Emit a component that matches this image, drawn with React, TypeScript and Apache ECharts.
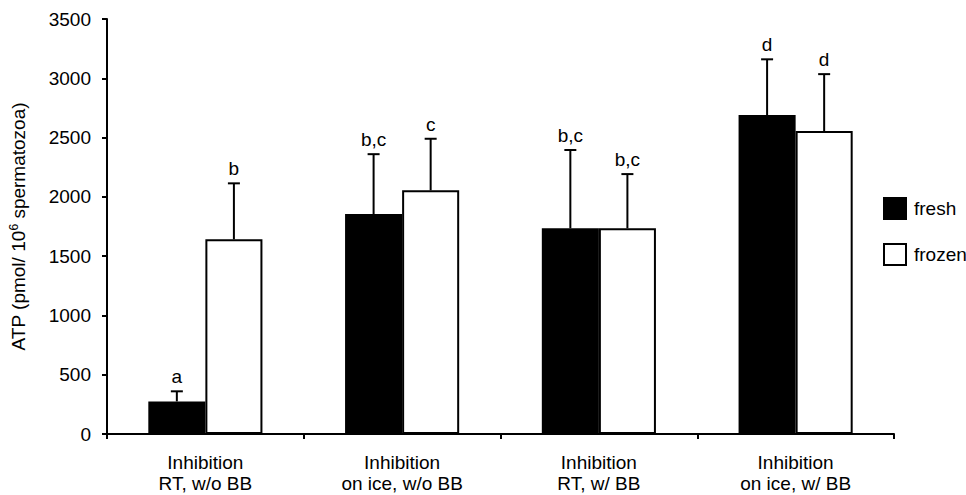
import React, { useEffect, useRef } from "react";
import * as echarts from "echarts";

const categories = [
  "Inhibition\nRT, w/o BB",
  "Inhibition\non ice, w/o BB",
  "Inhibition\nRT, w/ BB",
  "Inhibition\non ice, w/ BB",
];
const freshMean = [275, 1855, 1735, 2690];
const freshSD = [85, 505, 660, 470];
const frozenMean = [1642, 2055, 1735, 2555];
const frozenSD = [472, 435, 457, 480];
const freshLetters = ["a", "b,c", "b,c", "d"];
const frozenLetters = ["b", "c", "b,c", "d"];
const yTicks = { min: 0, max: 3500, interval: 500 };

const FONT = "Liberation Sans, Arial, sans-serif";
const FS = 19;
const CAT_GAP = 0.42;

function errSeries(name: string, means: number[], sds: number[], letters: string[], side: number) {
  return {
    type: "custom",
    name: name + "-err",
    z: 5,
    encode: { x: 0, y: 1 },
    data: means.map((m, i) => [i, m, sds[i]]),
    renderItem: (params: any, api: any) => {
      const i = api.value(0);
      const m = api.value(1);
      const sd = api.value(2);
      const bw = api.size([1, 0])[0];
      const off = side * bw * (1 - CAT_GAP) / 4;
      const p0 = api.coord([i, m]);
      const p1 = api.coord([i, m + sd]);
      const x = p0[0] + off;
      const cap = 6;
      return {
        type: "group",
        children: [
          {
            type: "line",
            shape: { x1: x, y1: p0[1], x2: x, y2: p1[1] },
            style: { stroke: "#000", lineWidth: 2 },
          },
          {
            type: "line",
            shape: { x1: x - cap, y1: p1[1], x2: x + cap, y2: p1[1] },
            style: { stroke: "#000", lineWidth: 2 },
          },
          {
            type: "text",
            x: x,
            y: p1[1] - 5,
            style: {
              text: letters[params.dataIndex],
              fill: "#000",
              font: FS + "px " + FONT,
              textAlign: "center",
              textVerticalAlign: "bottom",
            },
          },
        ],
      };
    },
  };
}

export default function App() {
  const ref = useRef<HTMLDivElement>(null);
  useEffect(() => {
    document.body.style.margin = "0";
    const chart = echarts.init(ref.current!, null, { renderer: "svg" });
    chart.setOption({
      animation: false,
      backgroundColor: "#fff",
      textStyle: { fontFamily: FONT, color: "#000" },
      grid: { left: 104, right: 72, top: 19, bottom: 61 },
      legend: {
        orient: "vertical",
        left: 883,
        top: 197,
        padding: 0,
        itemWidth: 22,
        itemHeight: 21,
        itemGap: 23,
        icon: "rect",
        data: ["fresh", "frozen"],
        textStyle: { fontSize: FS, color: "#000", fontFamily: FONT, padding: [0, 0, 0, 3] },
      },
      xAxis: {
        type: "category",
        data: categories,
        axisLine: { lineStyle: { color: "#000", width: 2 } },
        axisTick: { show: true, length: 5, lineStyle: { color: "#000", width: 2 } },
        axisLabel: {
          color: "#000",
          fontSize: FS,
          lineHeight: 21,
          margin: 18,
          fontFamily: FONT,
          interval: 0,
        },
      },
      yAxis: {
        type: "value",
        min: yTicks.min,
        max: yTicks.max,
        interval: yTicks.interval,
        splitLine: { show: false },
        axisLine: { show: true, lineStyle: { color: "#000", width: 2 } },
        axisTick: { show: true, length: 5, lineStyle: { color: "#000", width: 2 } },
        axisLabel: {
          color: "#000",
          fontSize: FS,
          margin: 16,
          fontFamily: FONT,
          formatter: (v: number) => String(v),
        },
        name: "{n|ATP (pmol/ 10}{s|6}{n| spermatozoa)}",
        nameLocation: "middle",
        nameGap: 78,
        nameRotate: 90,
        nameTextStyle: {
          rich: {
            n: { fontSize: FS, color: "#000", fontFamily: FONT },
            s: { fontSize: 12, color: "#000", fontFamily: FONT, verticalAlign: "top", padding: [0, 0, 9, 0] },
          },
        },
      },
      series: [
        {
          type: "bar",
          name: "fresh",
          data: freshMean,
          barGap: "0%",
          barCategoryGap: CAT_GAP * 100 + "%",
          itemStyle: { color: "#000", borderColor: "#000", borderWidth: 2 },
        },
        {
          type: "bar",
          name: "frozen",
          data: frozenMean,
          barGap: "0%",
          barCategoryGap: CAT_GAP * 100 + "%",
          itemStyle: { color: "#fff", borderColor: "#000", borderWidth: 2 },
        },
        errSeries("fresh", freshMean, freshSD, freshLetters, -1),
        errSeries("frozen", frozenMean, frozenSD, frozenLetters, 1),
      ],
    });
    return () => chart.dispose();
  }, []);
  return <div ref={ref} style={{ width: 966, height: 495 }} />;
}
